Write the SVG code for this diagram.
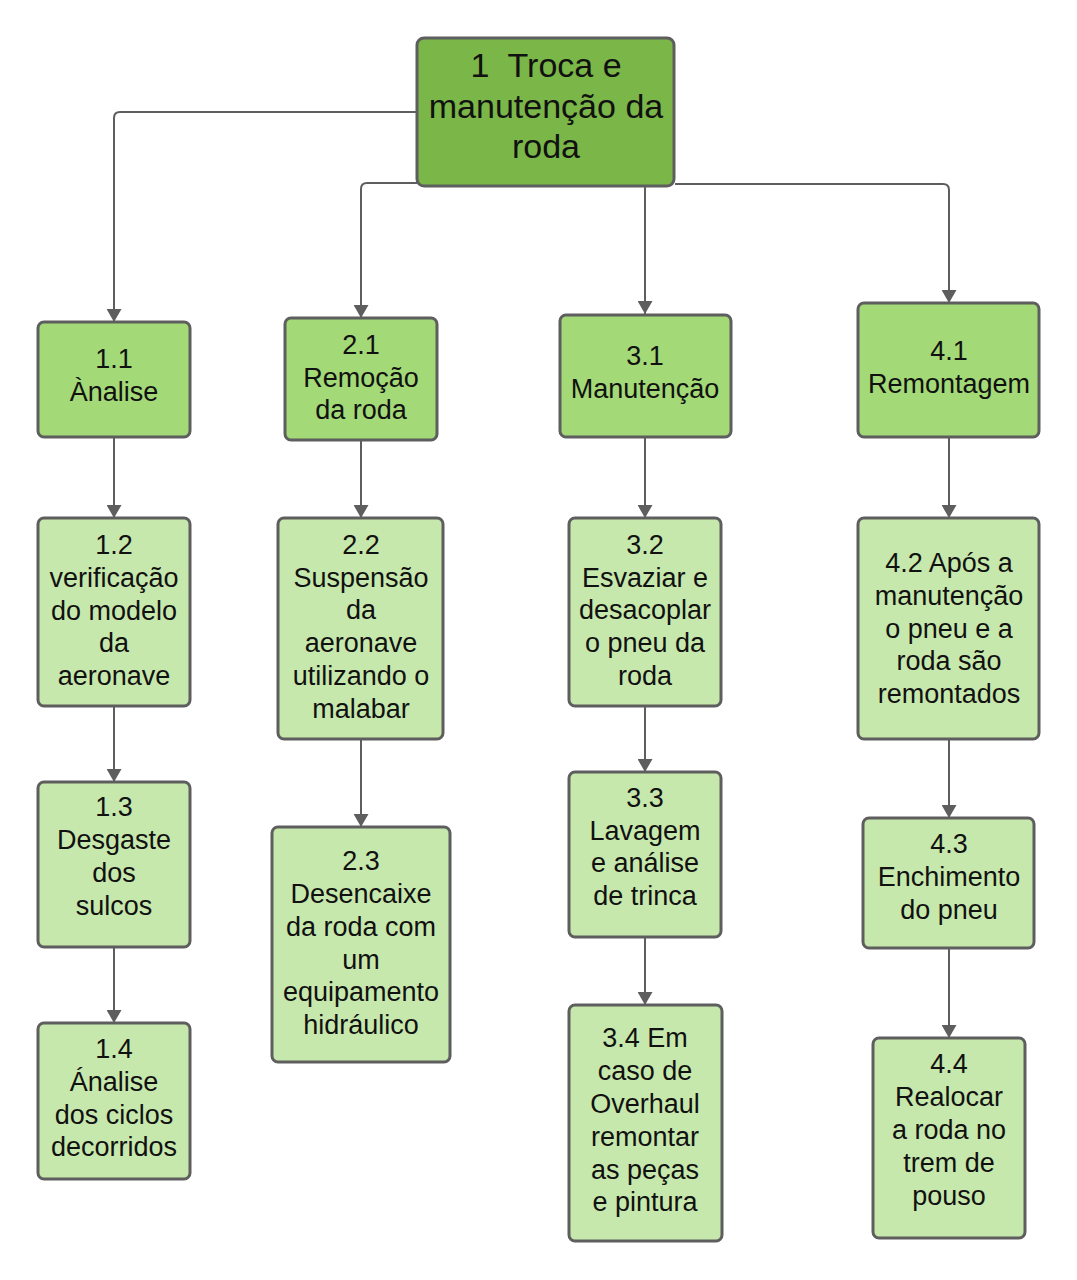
<svg xmlns="http://www.w3.org/2000/svg" width="1077" height="1280" viewBox="0 0 1077 1280">
<defs>
<marker id="arr" viewBox="0 0 13 15" refX="13" refY="7.5" markerWidth="13" markerHeight="15" markerUnits="userSpaceOnUse" orient="auto">
<path d="M0,0 L13,7.5 L0,15 Z" fill="#5e5e5e"/>
</marker>
<style>
.n rect{stroke:#5e5e5e;stroke-width:3}
.root rect{fill:#7ab648}
.l1 rect{fill:#a3d977}
.l2 rect{fill:#c7e8ac}
text{font-family:"Liberation Sans",Arial,sans-serif;font-size:27px;fill:#111;text-anchor:middle;white-space:pre}
.root text{font-size:34px}
.c path{fill:none;stroke:#5e5e5e;stroke-width:2;marker-end:url(#arr)}
</style>
</defs>
<rect width="1077" height="1280" fill="#fff"/>
<g id="connectors" class="c">
<path d="M417,112 H120 Q114,112 114,118 V322"/>
<path d="M417,183 H367 Q361,183 361,189 V318"/>
<path d="M645,186 V314"/>
<path d="M675,184 H943 Q949,184 949,190 V303"/>
<path d="M114,437 V518"/>
<path d="M114,706 V782"/>
<path d="M114,947 V1023"/>
<path d="M361,440 V518"/>
<path d="M361,739 V827"/>
<path d="M645,437 V518"/>
<path d="M645,706 V772"/>
<path d="M645,937 V1005"/>
<path d="M949,437 V518"/>
<path d="M949,739 V818"/>
<path d="M949,948 V1038"/>
</g>
<g id="n1" class="n root"><rect x="417" y="38" width="257" height="148" rx="7"/>
<text x="546" y="77" xml:space="preserve">1  Troca e</text><text x="546" y="118">manutenção da</text><text x="546" y="158">roda</text></g>
<g id="n1_1" class="n l1"><rect x="38" y="322" width="152" height="115" rx="6"/>
<text x="114" y="368">1.1</text><text x="114" y="401">Ànalise</text></g>
<g id="n2_1" class="n l1"><rect x="285" y="318" width="152" height="122" rx="6"/>
<text x="361" y="354">2.1</text><text x="361" y="387">Remoção</text><text x="361" y="419">da roda</text></g>
<g id="n3_1" class="n l1"><rect x="560" y="315" width="171" height="122" rx="6"/>
<text x="645" y="365">3.1</text><text x="645" y="398">Manutenção</text></g>
<g id="n4_1" class="n l1"><rect x="858" y="303" width="181" height="134" rx="6"/>
<text x="949" y="360">4.1</text><text x="949" y="393">Remontagem</text></g>
<g id="n1_2" class="n l2"><rect x="38" y="518" width="152" height="188" rx="6"/>
<text x="114" y="554">1.2</text><text x="114" y="587">verificação</text><text x="114" y="620">do modelo</text><text x="114" y="652">da</text><text x="114" y="685">aeronave</text></g>
<g id="n1_3" class="n l2"><rect x="38" y="782" width="152" height="165" rx="6"/>
<text x="114" y="816">1.3</text><text x="114" y="849">Desgaste</text><text x="114" y="882">dos</text><text x="114" y="915">sulcos</text></g>
<g id="n1_4" class="n l2"><rect x="38" y="1023" width="152" height="156" rx="6"/>
<text x="114" y="1058">1.4</text><text x="114" y="1091">Ánalise</text><text x="114" y="1124">dos ciclos</text><text x="114" y="1156">decorridos</text></g>
<g id="n2_2" class="n l2"><rect x="278" y="518" width="165" height="221" rx="6"/>
<text x="361" y="554">2.2</text><text x="361" y="587">Suspensão</text><text x="361" y="619">da</text><text x="361" y="652">aeronave</text><text x="361" y="685">utilizando o</text><text x="361" y="718">malabar</text></g>
<g id="n2_3" class="n l2"><rect x="272" y="827" width="178" height="235" rx="6"/>
<text x="361" y="870">2.3</text><text x="361" y="903">Desencaixe</text><text x="361" y="936">da roda com</text><text x="361" y="969">um</text><text x="361" y="1001">equipamento</text><text x="361" y="1034">hidráulico</text></g>
<g id="n3_2" class="n l2"><rect x="569" y="518" width="152" height="188" rx="6"/>
<text x="645" y="554">3.2</text><text x="645" y="587">Esvaziar e</text><text x="645" y="619">desacoplar</text><text x="645" y="652">o pneu da</text><text x="645" y="685">roda</text></g>
<g id="n3_3" class="n l2"><rect x="569" y="772" width="152" height="165" rx="6"/>
<text x="645" y="807">3.3</text><text x="645" y="840">Lavagem</text><text x="645" y="872">e análise</text><text x="645" y="905">de trinca</text></g>
<g id="n3_4" class="n l2"><rect x="569" y="1005" width="153" height="236" rx="6"/>
<text x="645" y="1047">3.4 Em</text><text x="645" y="1080">caso de</text><text x="645" y="1113">Overhaul</text><text x="645" y="1146">remontar</text><text x="645" y="1179">as peças</text><text x="645" y="1211">e pintura</text></g>
<g id="n4_2" class="n l2"><rect x="858" y="518" width="181" height="221" rx="6"/>
<text x="949" y="572">4.2 Após a</text><text x="949" y="605">manutenção</text><text x="949" y="638">o pneu e a</text><text x="949" y="670">roda são</text><text x="949" y="703">remontados</text></g>
<g id="n4_3" class="n l2"><rect x="863" y="818" width="171" height="130" rx="6"/>
<text x="949" y="853">4.3</text><text x="949" y="886">Enchimento</text><text x="949" y="919">do pneu</text></g>
<g id="n4_4" class="n l2"><rect x="873" y="1038" width="152" height="200" rx="6"/>
<text x="949" y="1073">4.4</text><text x="949" y="1106">Realocar</text><text x="949" y="1139">a roda no</text><text x="949" y="1172">trem de</text><text x="949" y="1205">pouso</text></g>
</svg>
